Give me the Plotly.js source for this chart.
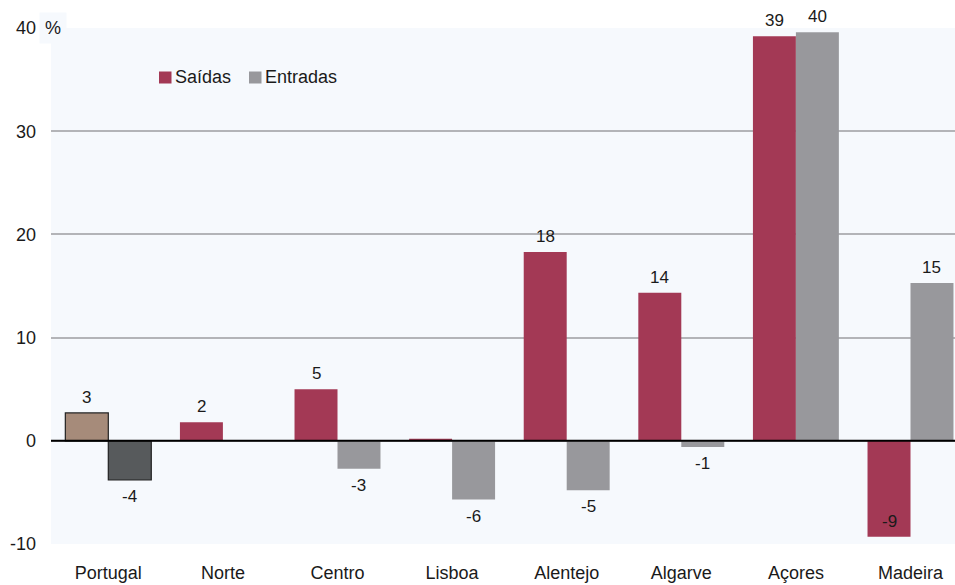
<!DOCTYPE html>
<html>
<head>
<meta charset="utf-8">
<script src="https://cdn.plot.ly/plotly-3.0.1.min.js"></script>
<style>html,body{margin:0;padding:0;background:#fff;}#chart{width:955px;height:585px;}</style>
</head>
<body>
<div id="chart"></div>
<script>
// ---- data ----
const categories = ['Portugal', 'Norte', 'Centro', 'Lisboa', 'Alentejo', 'Algarve', 'Açores', 'Madeira'];
const saidas   = [2.7, 1.8, 5.0, 0.2, 18.3, 14.35, 39.2, -9.3];
const entradas = [-3.8, null, -2.7, -5.7, -4.8, -0.6, 39.6, 15.3];
const seriesNames = ['Saídas', 'Entradas'];
const yTickVals = [-10, 0, 10, 20, 30, 40];
const yTickText = ['-10', '0', '10', '20', '30', '40'];
const unitLabel = '%';

// ---- styles ----
const FONT = 'Liberation Sans, Arial, sans-serif';
const TXT = '#1a1a1a';
const C_SAI = '#a33955';
const C_ENT = '#98989c';
const C_PT_SAI = '#a68b7a';
const C_PT_ENT = '#575a5c';
const BG = '#f6f9fd';
const W = 955, H = 585, ML = 51, MR = 0, MT = 28, MB = 41;
const PW = W - ML - MR, PH = H - MT - MB;
const YMIN = -10, YMAX = 40;
const px2x = p => (p - ML) / PW;
const py2y = p => (H - MB - p) / PH;

const groupShare = 0.75, barShare = groupShare / 2;
const offs = [-barShare / 2, barShare / 2];

function colorsFor(base, first) { return categories.map((c, i) => i === 0 ? first : base); }
const lineW = categories.map((c, i) => i === 0 ? 1.2 : 0);

const traces = [
  { type: 'bar', name: seriesNames[0], x: categories, y: saidas,
    marker: { color: colorsFor(C_SAI, C_PT_SAI), line: { color: '#222', width: lineW } },
    hoverinfo: 'x+y' },
  { type: 'bar', name: seriesNames[1], x: categories, y: entradas,
    marker: { color: colorsFor(C_ENT, C_PT_ENT), line: { color: '#222', width: lineW } },
    hoverinfo: 'x+y' }
];

// value labels built from the data
const annotations = [];
[saidas, entradas].forEach((arr, s) => {
  arr.forEach((v, i) => {
    if (v === null) return;
    const r = Math.round(v);
    if (r === 0) return;
    // labels go beyond the bar end, unless there is no room below the axis floor
    const up = v > 0 || (v - YMIN) < 2;
    annotations.push({
      xref: 'x', yref: 'y', x: i + offs[s], y: v,
      text: String(r), showarrow: false,
      xanchor: 'center', yanchor: up ? 'bottom' : 'top',
      yshift: up ? 4 : -5,
      font: { family: FONT, size: 17, color: TXT }
    });
  });
});

// unit label
annotations.push({
  xref: 'paper', yref: 'y', x: px2x(53), y: YMAX, text: unitLabel, showarrow: false,
  xanchor: 'center', yanchor: 'middle', bgcolor: BG, borderpad: 5,
  font: { family: FONT, size: 18, color: TXT }
});

// legend (manual)
const legColors = [C_SAI, C_ENT];
const legSquareX = [159, 249];
const shapes = [];
seriesNames.forEach((n, k) => {
  shapes.push({ type: 'rect', xref: 'paper', yref: 'paper', layer: 'above',
    x0: px2x(legSquareX[k]), x1: px2x(legSquareX[k] + 12.5),
    y0: py2y(83.5), y1: py2y(71.5), fillcolor: legColors[k], line: { width: 0 } });
  annotations.push({ xref: 'paper', yref: 'paper', x: px2x(legSquareX[k] + 14), y: py2y(77.5),
    text: n, showarrow: false, xanchor: 'left', yanchor: 'middle',
    font: { family: FONT, size: 18, color: TXT } });
});

// zero line above bars
shapes.push({ type: 'line', xref: 'paper', yref: 'y', x0: 0, x1: 1, y0: 0, y1: 0,
  layer: 'above', line: { color: '#000', width: 2 } });

const layout = {
  width: W, height: H,
  margin: { l: ML, r: MR, t: MT, b: MB, pad: 0 },
  paper_bgcolor: '#ffffff', plot_bgcolor: BG,
  showlegend: false,
  barmode: 'group', bargap: 1 - groupShare, bargroupgap: 0,
  font: { family: FONT, size: 18, color: TXT },
  xaxis: {
    type: 'category', range: [-0.5, -0.5 + PW / 114.6],
    showgrid: false, zeroline: false, showline: false, ticks: '',
    tickfont: { family: FONT, size: 18, color: TXT }, ticklabelstandoff: 16, fixedrange: true
  },
  yaxis: {
    range: [YMIN, YMAX], tickvals: yTickVals, ticktext: yTickText,
    showgrid: true, gridcolor: '#b3b4b8', gridwidth: 2,
    zeroline: false, showline: false, ticks: '',
    tickfont: { family: FONT, size: 18, color: TXT }, ticklabelstandoff: 14, fixedrange: true
  },
  annotations: annotations,
  shapes: shapes
};

Plotly.newPlot('chart', traces, layout, { displayModeBar: false, staticPlot: true });
</script>
</body>
</html>
